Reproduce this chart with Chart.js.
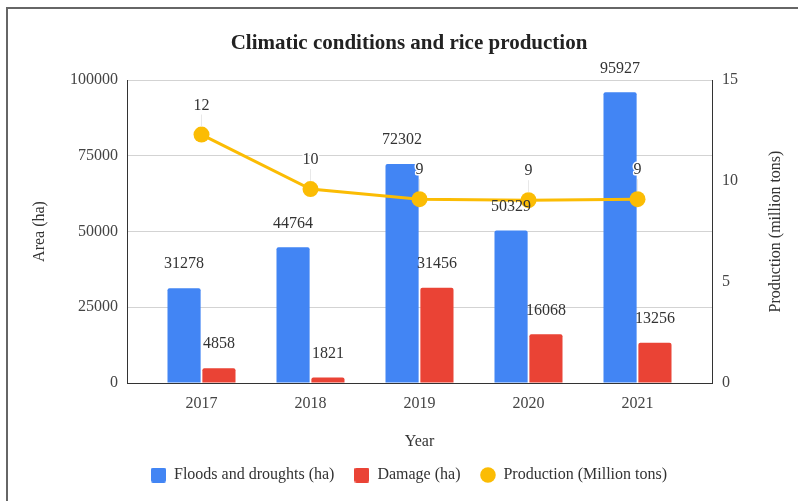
<!DOCTYPE html>
<html><head><meta charset="utf-8">
<script src="https://cdn.jsdelivr.net/npm/chart.js@4.4.1/dist/chart.umd.min.js"></script>
<style>
html,body{margin:0;padding:0;background:#fff;overflow:hidden;width:798px;height:501px}
#frame{position:absolute;left:6px;top:7px;width:900px;height:600px;border-left:2px solid #666;border-top:2px solid #666;box-sizing:border-box}
#c{position:absolute;left:0;top:0}
</style></head><body>
<div id="frame"></div>
<canvas id="c" width="798" height="501"></canvas>
<script>
const years = ['2017', '2018', '2019', '2020', '2021'];
const floodsDroughts = [31278, 44764, 72302, 50329, 95927];
const damage = [4858, 1821, 31456, 16068, 13256];
const production = [12.3, 9.6, 9.1, 9.05, 9.1];
const areaTicks = [0, 25000, 50000, 75000, 100000];
const productionTicks = [0, 5, 10, 15];
const seriesNames = ['Floods and droughts (ha)', 'Damage (ha)', 'Production (Million tons)'];

const BLUE = '#4285F4', RED = '#EA4335', YELLOW = '#FBBC04';
const FAMILY = "'Liberation Serif', 'Times New Roman', serif";
const FS = 16;
Chart.defaults.font.family = FAMILY;
Chart.defaults.color = '#444';

function boxMarker(color) {
  const c = document.createElement('canvas');
  c.width = 15; c.height = 15;
  const x = c.getContext('2d');
  x.fillStyle = color;
  x.beginPath();
  x.roundRect(0, 0, 15, 15, 2);
  x.fill();
  return c;
}
const markers = [boxMarker(BLUE), boxMarker(RED), 'circle'];

const X_PAD = 0.1835;

const valueLabels = {
  id: 'valueLabels',
  afterDatasetsDraw(chart) {
    const ctx = chart.ctx;
    ctx.save();
    ctx.font = FS + 'px ' + FAMILY;
    ctx.textAlign = 'center';
    ctx.textBaseline = 'middle';
    chart.data.datasets.forEach((ds, di) => {
      const meta = chart.getDatasetMeta(di);
      meta.data.forEach((el, i) => {
        const v = ds.data[i];
        if (ds.type === 'line') {
          const ly = el.y - 29;
          ctx.strokeStyle = '#e8e8e8';
          ctx.lineWidth = 1;
          ctx.beginPath();
          ctx.moveTo(el.x, ly + 9);
          ctx.lineTo(el.x, el.y - 8);
          ctx.stroke();
          const t = String(Math.round(v));
          ctx.lineWidth = 3;
          ctx.lineJoin = 'round';
          ctx.strokeStyle = '#fff';
          ctx.strokeText(t, el.x, ly);
          ctx.fillStyle = '#333';
          ctx.fillText(t, el.x, ly);
        } else {
          ctx.fillStyle = '#333';
          ctx.fillText(String(v), el.x, el.y - 24);
        }
      });
    });
    ctx.restore();
  },
  afterDraw(chart) {
    const ctx = chart.ctx;
    const a = chart.chartArea;
    ctx.save();
    ctx.font = FS + 'px ' + FAMILY;
    ctx.fillStyle = '#333';
    ctx.textAlign = 'center';
    ctx.textBaseline = 'middle';
    ctx.translate(776, (a.top + a.bottom) / 2);
    ctx.rotate(-Math.PI / 2);
    ctx.fillText('Production (million tons)', 0, 0);
    ctx.restore();
  }
};

new Chart(document.getElementById('c'), {
  data: {
    labels: years,
    datasets: [
      { type: 'bar', label: seriesNames[0], data: floodsDroughts, backgroundColor: BLUE, yAxisID: 'y', order: 1,
        borderRadius: 2, borderSkipped: 'start', categoryPercentage: 0.64, barPercentage: 0.95 },
      { type: 'bar', label: seriesNames[1], data: damage, backgroundColor: RED, yAxisID: 'y', order: 1,
        borderRadius: 2, borderSkipped: 'start', categoryPercentage: 0.64, barPercentage: 0.95 },
      { type: 'line', label: seriesNames[2], data: production, borderColor: YELLOW, backgroundColor: YELLOW,
        yAxisID: 'y1', order: 0, borderWidth: 3, tension: 0, pointRadius: 8, pointHoverRadius: 8,
        pointBorderWidth: 0, pointBackgroundColor: YELLOW }
    ]
  },
  options: {
    responsive: false,
    animation: false,
    layout: { padding: { top: 0, left: 20, right: 0, bottom: 8 } },
    plugins: {
      tooltip: { enabled: false },
      title: {
        display: true, text: 'Climatic conditions and rice production', color: '#222',
        font: { size: 21, weight: 'bold', family: FAMILY }, padding: { top: 31.4, bottom: 23.4 }
      },
      legend: {
        position: 'bottom',
        labels: {
          usePointStyle: true, boxWidth: 15, boxHeight: 11, padding: 20, color: '#333',
          font: { size: FS, family: FAMILY },
          generateLabels(chart) {
            const items = Chart.defaults.plugins.legend.labels.generateLabels(chart);
            items.sort((p, q) => p.datasetIndex - q.datasetIndex);
            items.forEach(it => { it.pointStyle = markers[it.datasetIndex]; it.lineWidth = 0; it.strokeStyle = 'rgba(0,0,0,0)'; });
            return items;
          }
        }
      }
    },
    scales: {
      x: {
        grid: { display: false },
        border: { display: true, color: '#333', width: 1 },
        ticks: { color: '#444', font: { size: FS }, padding: 3.4 },
        title: { display: true, text: 'Year', color: '#333', font: { size: FS }, padding: { top: 0, bottom: -4.5 } },
        afterBuildTicks: s => { s._startValue = -0.5 - X_PAD; s._valueRange = years.length + 2 * X_PAD; },
        afterFit: s => { s.height = 64; }
      },
      y: {
        position: 'left', min: 0, max: 100000,
        ticks: { color: '#444', font: { size: FS }, padding: 9, callback: v => String(v) },
        afterBuildTicks: s => { s.ticks = areaTicks.map(v => ({ value: v })); },
        grid: { color: '#d3d3d3', drawTicks: false },
        border: { color: '#333', width: 1 },
        title: { display: true, text: 'Area (ha)', color: '#333', font: { size: FS }, padding: { top: 10.4, bottom: 0 } },
        afterFit: s => { s.width = 107; }
      },
      y1: {
        position: 'right', min: 0, max: 15,
        ticks: { color: '#444', font: { size: FS }, padding: 10, callback: v => String(v) },
        afterBuildTicks: s => { s.ticks = productionTicks.map(v => ({ value: v })); },
        grid: { drawOnChartArea: false, drawTicks: false },
        border: { color: '#333', width: 1 },
        title: { display: false },
        afterFit: s => { s.width = 86; }
      }
    }
  },
  plugins: [valueLabels]
});
</script>
</body></html>
